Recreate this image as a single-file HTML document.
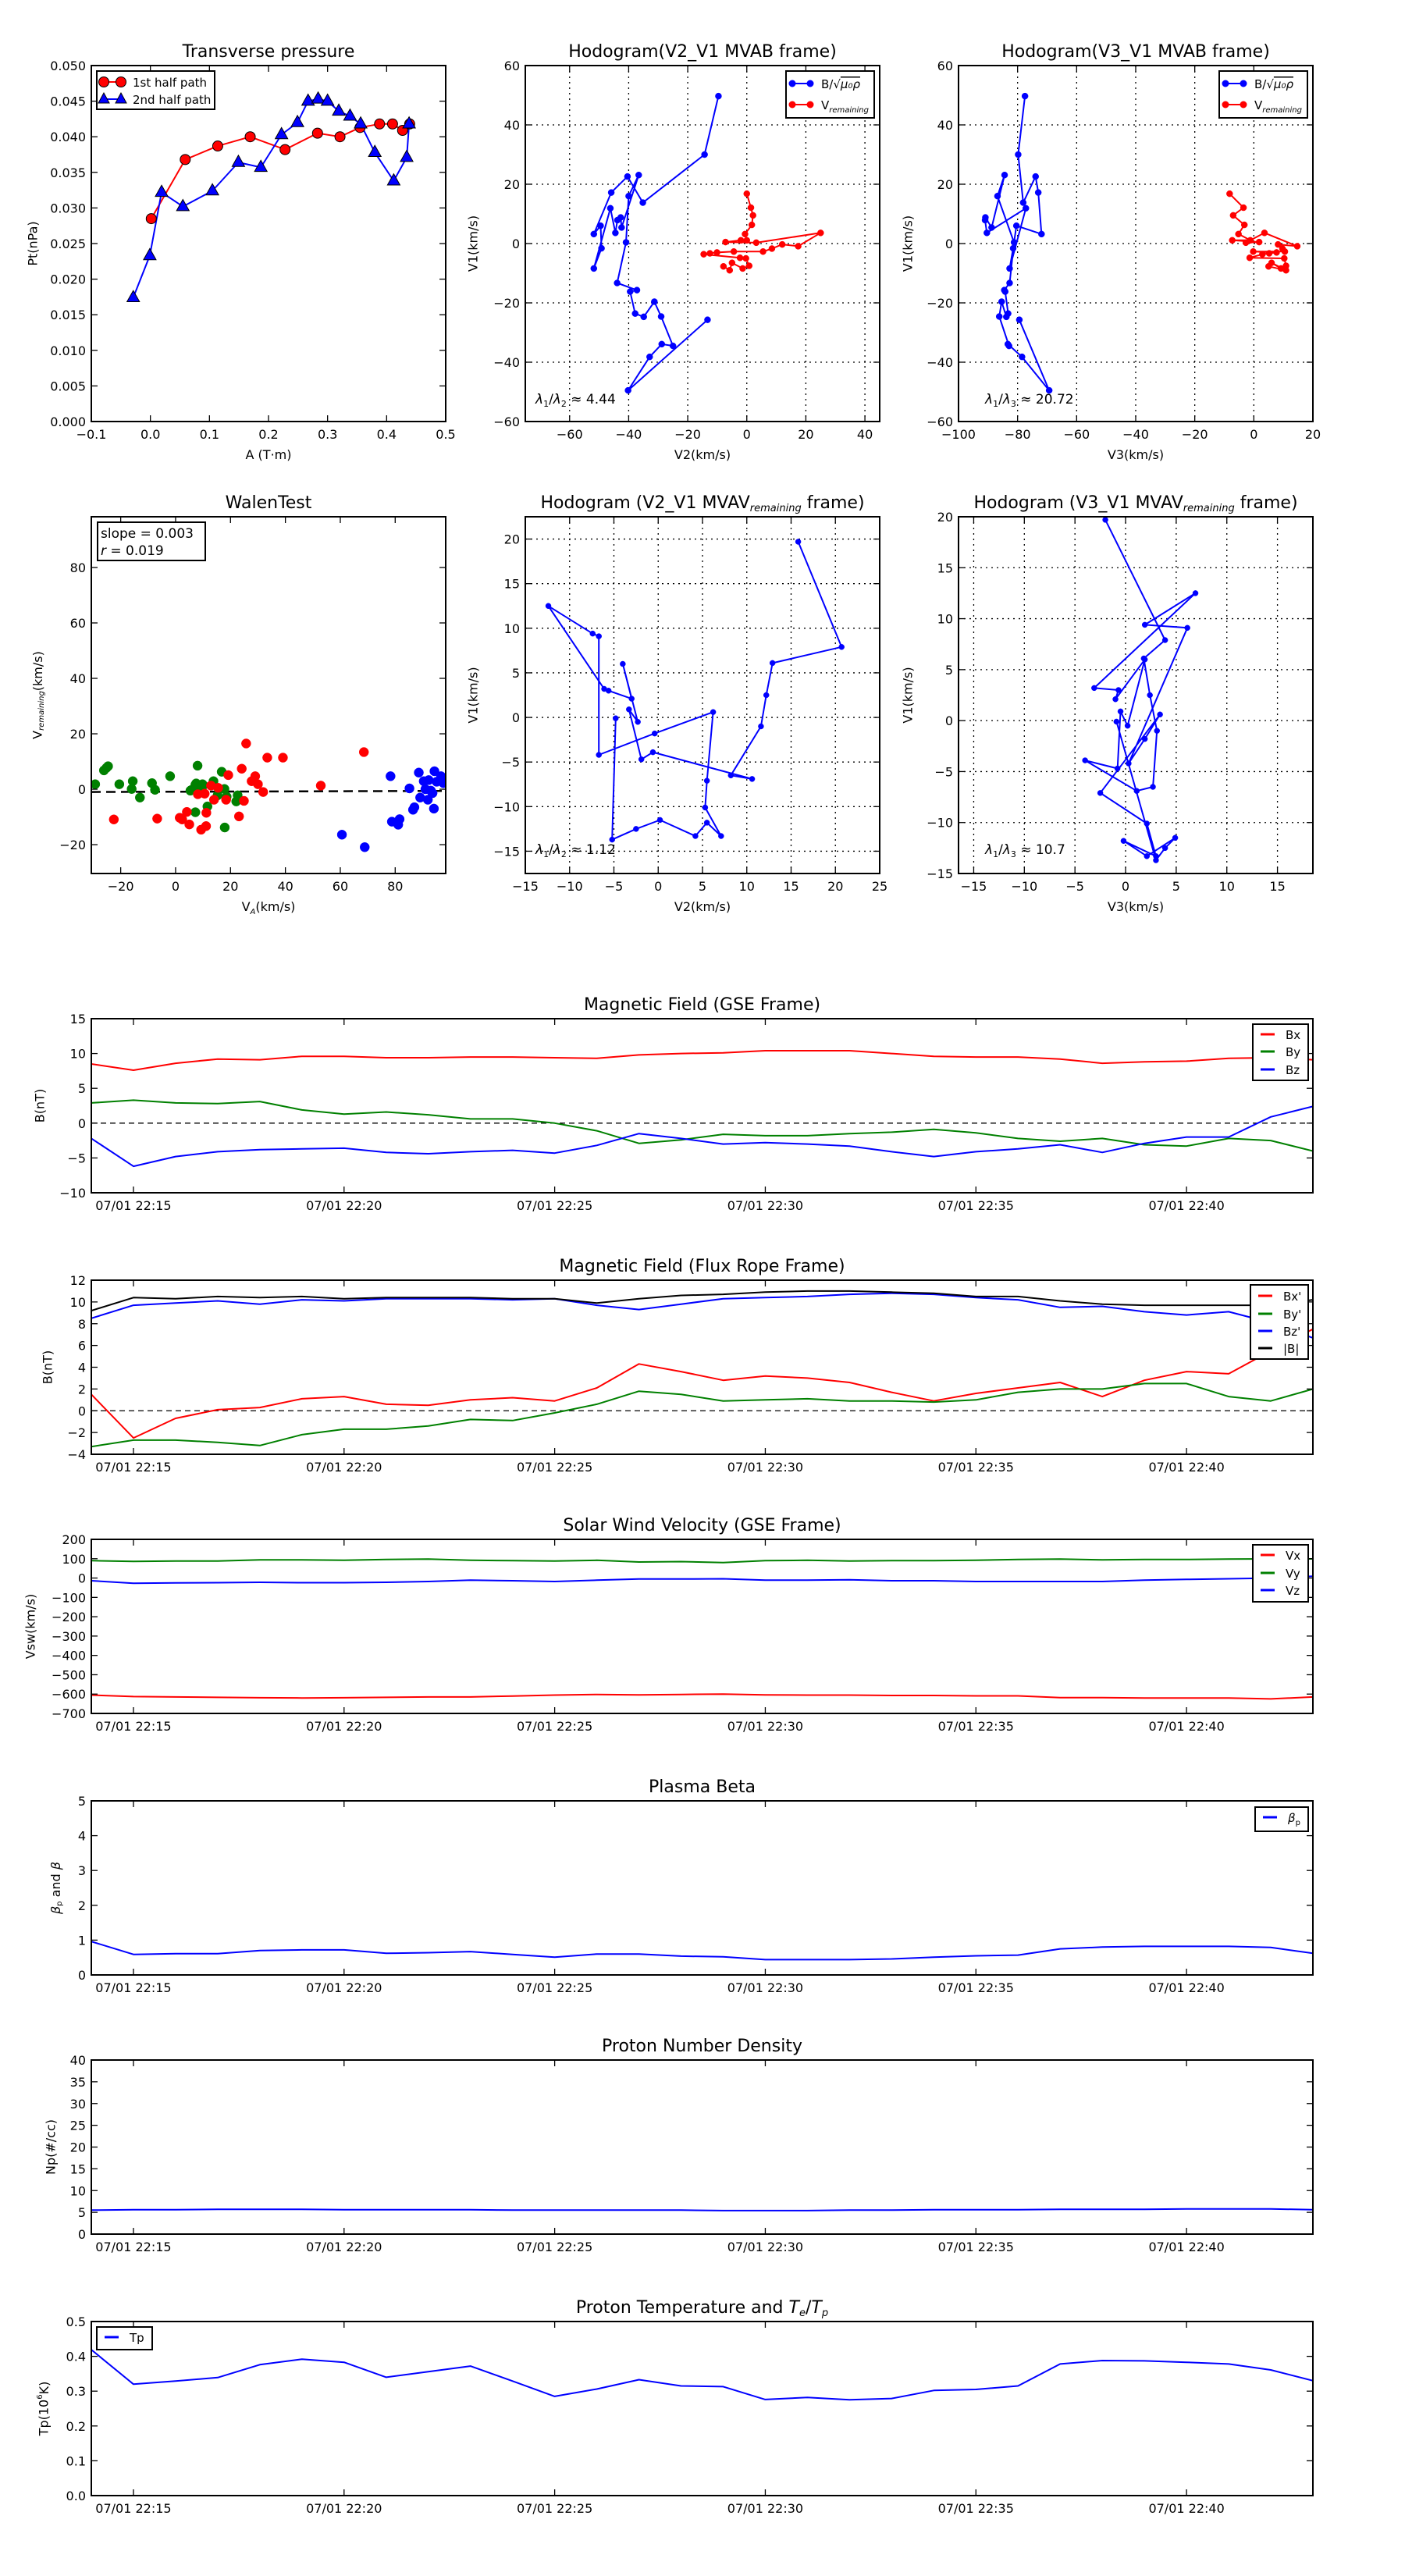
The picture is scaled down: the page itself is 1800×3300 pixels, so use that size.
<!DOCTYPE html>
<html><head><meta charset="utf-8">
<style>
body{margin:0;background:#fff}
svg{display:block}
text{font-family:"DejaVu Sans","Liberation Sans",sans-serif;fill:#000}
</style></head>
<body>
<svg id="fig" xmlns="http://www.w3.org/2000/svg" width="1800" height="3300" viewBox="0 0 1800 3300">
<rect width="1800" height="3300" fill="#fff"/>
</svg>
<script>
// ---------------- DATA ----------------
// Transverse pressure
const ptRedA=[0.0015,0.059,0.114,0.169,0.228,0.283,0.321,0.355,0.388,0.410,0.427,0.439];
const ptRedP=[0.0285,0.0368,0.0387,0.0400,0.0382,0.0405,0.0400,0.0413,0.0418,0.0418,0.0409,0.0418];
const ptBlueA=[-0.029,-0.001,0.019,0.055,0.105,0.149,0.187,0.222,0.249,0.267,0.284,0.300,0.319,0.338,0.356,0.380,0.412,0.434,0.438];
const ptBlueP=[0.0174,0.0233,0.0322,0.0302,0.0324,0.0364,0.0357,0.0403,0.0420,0.0450,0.0453,0.0450,0.0436,0.0429,0.0418,0.0378,0.0338,0.0371,0.0418];
const ptXTicks=[-0.1,0,0.1,0.2,0.3,0.4,0.5];
const ptYTicks=[0,0.005,0.01,0.015,0.02,0.025,0.03,0.035,0.04,0.045,0.05];
// MVAB hodograms
const hbV2=[-9.6,-14.3,-35.2,-40.4,-45.9,-51.8,-49.5,-49.2,-51.8,-46.2,-44.5,-43.8,-42.7,-42.4,-36.6,-40,-40.9,-43.9,-37.2,-39.5,-37.8,-34.9,-31.3,-29,-25,-28.8,-32.9,-40.2,-13.3];
const hbV1=[49.7,30,13.8,22.6,17.2,3.2,6,-1.6,-8.4,11.9,3.6,7.9,8.8,5.4,23.1,16,0.4,-13.3,-15.7,-16.2,-23.6,-24.7,-19.6,-24.6,-34.5,-33.9,-38.2,-49.5,-25.7];
const hbV3=[-77.5,-79.8,-78.1,-73.9,-73,-71.9,-80.4,-81.5,-82.7,-77.2,-90.4,-91,-90.9,-88.8,-84.4,-86.8,-81.2,-82.7,-84.5,-84.2,-83.2,-83.8,-85.4,-86.2,-82.9,-83.3,-78.5,-69.3,-79.4];
const hrV2=[0,1.4,2.1,1.7,-0.6,0,-2,-7.2,3.2,25,17.4,12,8.5,5.5,-4.4,-10.1,-12.5,-14.6,-2.3,-0.3,0.8,-1.4,-5,-5.8,-7.9];
const hrV1=[16.8,12.1,9.5,6.3,3.2,1.1,1.1,0.5,0.3,3.6,-0.9,-0.3,-1.7,-2.7,-2.7,-3,-3.3,-3.6,-4.8,-5,-7.5,-8.4,-6.5,-9,-7.7];
const hrV3=[-8.2,-3.5,-7,-3.2,-5.2,-1.2,-7.3,1.8,-2.7,3.6,14.7,8.2,9.7,10.5,-0.2,7.7,5.2,2.9,-1.4,10.3,10.9,9.2,6,10.9,5];
// MVAV hodograms
const hvV2=[15.8,20.7,12.9,12.2,11.6,8.2,10.6,-0.6,-1.9,-3.3,-2.3,-4.0,-3.0,-5.6,-6.1,-12.4,-7.4,-6.7,-6.7,-0.4,6.2,5.5,5.3,7.1,5.5,4.2,0.2,-2.5,-5.2,-4.8];
const hvV1=[19.7,7.9,6.1,2.5,-1.0,-6.5,-6.9,-3.9,-4.7,0.9,-0.5,6.0,2.1,3.0,3.2,12.5,9.4,9.1,-4.2,-1.8,0.6,-7.1,-10.1,-13.3,-11.8,-13.3,-11.5,-12.5,-13.7,-0.1];
const hvV3=[-2.0,3.9,1.8,2.4,3.1,2.7,1.1,-4.0,-0.8,-0.5,0.2,1.9,-1.0,-0.7,-3.1,6.9,1.9,6.1,0.3,1.9,3.4,-2.5,2.1,3.0,-0.2,2.1,4.9,3.9,3.0,-0.9];
// Walen test
const wgX=[-29.3,-26.1,-25.2,-24.6,-20.5,-15.6,-16.0,-13.0,-8.6,-7.5,-2.0,5.4,7.2,7.5,8.0,9.0,9.8,10.1,11.6,13.8,15.3,16.8,17.8,17.9,18.6,22.1,22.6,7.2,5.7];
const wgY=[1.8,6.8,7.7,8.3,1.8,2.9,0.1,-3.0,2.2,-0.2,4.7,-0.5,1.6,2.1,8.5,0.1,1.8,1.4,-6.2,2.9,-2.2,6.3,0.1,-13.8,-2.7,-4.4,-2.2,-8.3,-0.3];
const wrX=[-22.5,-6.7,1.5,2.4,4.1,5.0,8.1,9.3,10.6,11.1,11.2,12.9,14.0,15.5,18.4,19.2,23.1,24.1,24.9,25.7,27.7,29.0,30.0,31.9,33.4,39.1,52.9,68.6];
const wrY=[-10.9,-10.6,-10.3,-10.9,-8.2,-12.7,-1.8,-14.6,-1.6,-13.3,-8.5,1.3,-3.8,0.5,-3.8,5.1,-9.8,7.4,-4.2,16.5,2.9,4.7,1.8,-1.0,11.4,11.4,1.3,13.4];
const wbX=[60.6,68.9,78.3,78.8,81.1,81.6,85.2,86.5,87.0,88.6,89.1,90.4,91.0,91.9,92.2,93.0,93.6,94.1,94.3,95.1,96.7,97.6];
const wbY=[-16.4,-20.9,4.7,-11.7,-12.8,-10.8,0.3,-7.4,-6.5,6.0,-3.0,2.9,0,-3.8,3.3,-0.5,-1.4,-7.0,6.5,2.7,4.7,2.2];
const walenSlope=[0.003];
const walenIntercept=[-0.9];
// Time series
const times=['22:14','22:15','22:16','22:17','22:18','22:19','22:20','22:21','22:22','22:23','22:24','22:25','22:26','22:27','22:28','22:29','22:30','22:31','22:32','22:33','22:34','22:35','22:36','22:37','22:38','22:39','22:40','22:41','22:42','22:43'];
const tsTickTimes=['22:15','22:20','22:25','22:30','22:35','22:40'];
const tsTickLabels=['07/01 22:15','07/01 22:20','07/01 22:25','07/01 22:30','07/01 22:35','07/01 22:40'];
const bx=[8.5,7.6,8.6,9.2,9.1,9.6,9.6,9.4,9.4,9.5,9.5,9.4,9.3,9.8,10.0,10.1,10.4,10.4,10.4,10.0,9.6,9.5,9.5,9.2,8.6,8.8,8.9,9.3,9.4,9.1];
const by=[2.9,3.3,2.9,2.8,3.1,1.9,1.3,1.6,1.2,0.6,0.6,0.0,-1.1,-2.9,-2.4,-1.6,-1.8,-1.8,-1.5,-1.3,-0.9,-1.4,-2.2,-2.6,-2.2,-3.1,-3.3,-2.2,-2.5,-4.0];
const bz=[-2.2,-6.2,-4.8,-4.1,-3.8,-3.7,-3.6,-4.2,-4.4,-4.1,-3.9,-4.3,-3.2,-1.5,-2.2,-3.0,-2.8,-3.0,-3.3,-4.1,-4.8,-4.1,-3.7,-3.1,-4.2,-2.9,-2.0,-2.0,0.9,2.4];
const bxp=[1.5,-2.5,-0.7,0.1,0.3,1.1,1.3,0.6,0.5,1.0,1.2,0.9,2.1,4.3,3.6,2.8,3.2,3.0,2.6,1.7,0.9,1.6,2.1,2.6,1.3,2.8,3.6,3.4,5.5,7.5];
const byp=[-3.3,-2.7,-2.7,-2.9,-3.2,-2.2,-1.7,-1.7,-1.4,-0.8,-0.9,-0.2,0.6,1.8,1.5,0.9,1.0,1.1,0.9,0.9,0.8,1.0,1.7,2.0,2.0,2.5,2.5,1.3,0.9,2.0];
const bzp=[8.5,9.7,9.9,10.1,9.8,10.2,10.1,10.3,10.3,10.3,10.2,10.3,9.7,9.3,9.8,10.3,10.4,10.5,10.7,10.8,10.7,10.4,10.2,9.5,9.6,9.1,8.8,9.1,8.1,6.7];
const btot=[9.2,10.4,10.3,10.5,10.4,10.5,10.3,10.4,10.4,10.4,10.3,10.3,9.9,10.3,10.6,10.7,10.9,11.0,11.0,10.9,10.8,10.5,10.5,10.1,9.8,9.7,9.7,9.7,9.7,10.2];
const vx=[-605,-613,-615,-617,-619,-620,-619,-617,-615,-615,-610,-605,-602,-604,-602,-600,-604,-605,-605,-607,-607,-609,-609,-618,-618,-620,-620,-620,-625,-615];
const vy=[90,86,88,88,94,94,92,96,98,92,90,88,92,83,85,80,90,92,88,90,90,92,96,98,94,96,96,98,99,99];
const vz=[-14,-27,-25,-24,-22,-24,-24,-22,-18,-11,-14,-18,-11,-5,-5,-4,-11,-11,-9,-14,-14,-18,-18,-18,-18,-11,-7,-4,0,9];
const betaP=[0.96,0.59,0.61,0.61,0.70,0.72,0.72,0.62,0.64,0.67,0.59,0.51,0.60,0.60,0.54,0.52,0.44,0.44,0.44,0.46,0.51,0.55,0.57,0.75,0.80,0.82,0.82,0.82,0.79,0.62];
const np=[5.5,5.6,5.6,5.7,5.7,5.7,5.6,5.6,5.6,5.6,5.5,5.5,5.5,5.5,5.5,5.4,5.4,5.4,5.5,5.5,5.6,5.6,5.6,5.7,5.7,5.7,5.8,5.8,5.8,5.6];
const tp=[0.419,0.320,0.329,0.339,0.376,0.392,0.383,0.340,0.356,0.372,0.329,0.285,0.306,0.333,0.315,0.313,0.276,0.282,0.275,0.279,0.302,0.305,0.315,0.378,0.388,0.387,0.383,0.378,0.361,0.330];

// ---------------- HELPERS ----------------
const NS='http://www.w3.org/2000/svg';
const svg=document.getElementById('fig');
function mk(tag,parent,attrs){const e=document.createElementNS(NS,tag);if(attrs){for(const k in attrs)e.setAttribute(k,attrs[k]);}parent.appendChild(e);return e;}
const minus=s=>String(s).replace('-','\u2212');
const tmin=s=>{const p=s.split(':');return (+p[0])*60+(+p[1]);};
let clipN=0;
function makeAxes(name,L,T,W,H,x0,x1,y0,y1){
  const g=mk('g',svg);
  
  
  const id='clip'+(clipN++);
  const cp=mk('clipPath',g,{id:id});mk('rect',cp,{x:L,y:T,width:W,height:H});
  const gridG=mk('g',g);
  
  
  const dataG=mk('g',g,{'clip-path':'url(#'+id+')'});
  
  
  return {name,g,gridG,dataG,L,T,W,H,sx:v=>L+(v-x0)/(x1-x0)*W,sy:v=>T+H-(v-y0)/(y1-y0)*H};
}
function txt(parent,x,y,str,size,anchor,html){
  const t=mk('text',parent,{x:x,y:y,'font-size':size,'text-anchor':anchor||'middle'});
  if(html)t.innerHTML=str;else t.textContent=str;
  return t;
}
function decorate(ax,xt,xl,yt,yl,grid){
  const g=ax.g,B=ax.T+ax.H,R=ax.L+ax.W;
  xt.forEach((v,i)=>{
    const x=ax.sx(v);
    if(grid){const gl=mk('line',ax.gridG,{x1:x,y1:ax.T,x2:x,y2:B,stroke:'#000','stroke-width':1.3,'stroke-dasharray':'2,5'});
      
      }
    const t1=mk('line',g,{x1:x,y1:B,x2:x,y2:B-8,stroke:'#000','stroke-width':1.3});
    
    
    mk('line',g,{x1:x,y1:ax.T,x2:x,y2:ax.T+8,stroke:'#000','stroke-width':1.3});
    const lb=txt(g,x,B+22,xl[i],16,'middle');
    
    
  });
  yt.forEach((v,i)=>{
    const y=ax.sy(v);
    if(grid){const gl=mk('line',ax.gridG,{x1:ax.L,y1:y,x2:R,y2:y,stroke:'#000','stroke-width':1.3,'stroke-dasharray':'2,5'});
      
      }
    const t1=mk('line',g,{x1:ax.L,y1:y,x2:ax.L+8,y2:y,stroke:'#000','stroke-width':1.3});
    
    
    mk('line',g,{x1:R,y1:y,x2:R-8,y2:y,stroke:'#000','stroke-width':1.3});
    const lb=txt(g,ax.L-7,y+6,yl[i],16,'end');
    
    
  });
  const fr=mk('rect',g,{x:ax.L,y:ax.T,width:ax.W,height:ax.H,fill:'none',stroke:'#000','stroke-width':2});
  
  
}
function title(ax,str,html){const t=txt(ax.g,ax.L+ax.W/2,ax.T-11,str,22,'middle',html);
  
  }
function xlabel(ax,str,y,html){const t=txt(ax.g,ax.L+ax.W/2,y,str,16,'middle',html);
  
  }
function ylabel(ax,str,x,html){const cy=ax.T+ax.H/2;const t=txt(ax.g,x,cy,str,16,'middle',html);t.setAttribute('transform','rotate(-90 '+x+' '+cy+')');t.setAttribute('dominant-baseline','middle');
  
  }
function pathOf(ax,xs,ys){return xs.map((v,i)=>ax.sx(v).toFixed(1)+','+ax.sy(ys[i]).toFixed(1)).join(' ');}
function line(ax,xs,ys,color,name,w){const p=mk('polyline',ax.dataG,{points:pathOf(ax,xs,ys),fill:'none',stroke:color,'stroke-width':w||2,'stroke-linejoin':'round'});
  
  return p;}
function dots(ax,xs,ys,color,r,name,shape){
  xs.forEach((v,i)=>{
    const x=ax.sx(v),y=ax.sy(ys[i]);let m;
    if(shape==='tri'){m=mk('polygon',ax.dataG,{points:`${x},${y-r*1.3} ${x-r*1.15},${y+r*0.75} ${x+r*1.15},${y+r*0.75}`,fill:color,stroke:'#000','stroke-width':1});}
    else{m=mk('circle',ax.dataG,{cx:x,cy:y,r:r,fill:color,stroke:shape==='edge'?'#000':color,'stroke-width':shape==='edge'?1:0.5});}
    
    
  });
}
function legend(ax,x,y,w,h,entries,name,size){
  const g=mk('g',ax.g);
  
  
  mk('rect',g,{x:x,y:y,width:w,height:h,fill:'#fff',stroke:'#000','stroke-width':2});
  entries.forEach(e=>{
    const eg=mk('g',g);
    
    
    mk('line',eg,{x1:e.x1,y1:e.y,x2:e.x2,y2:e.y,stroke:e.c,'stroke-width':e.mk?2:3});
    if(e.mk==='circ'){[e.x1,e.x2].forEach(px=>mk('circle',eg,{cx:px,cy:e.y,r:e.r,fill:e.c,stroke:e.edge?'#000':e.c,'stroke-width':1}));}
    if(e.mk==='tri'){[e.x1,e.x2].forEach(px=>mk('polygon',eg,{points:`${px},${e.y-8} ${px-7},${e.y+5} ${px+7},${e.y+5}`,fill:e.c,stroke:'#000','stroke-width':1}));}
    txt(eg,e.tx,e.y+6,e.label,size||16,'start',true);
  });
}
const range=(a,b,s)=>{const r=[];for(let v=a;v<=b+1e-9;v+=s)r.push(+v.toFixed(6));return r;};

// ---------------- ROW 1 ----------------
const R1T=84,R1H=456,R2T=662,R2H=457;
const PX=[117,673,1228],PW=454;
{ // Transverse pressure
  const ax=makeAxes('transverse-pressure-chart',PX[0],R1T,PW,R1H,-0.1,0.5,0,0.05);
  line(ax,ptRedA,ptRedP,'#f00','first-half-path-line');
  line(ax,ptBlueA,ptBlueP,'#00f','second-half-path-line');
  dots(ax,ptRedA,ptRedP,'#f00',6.5,'first-half-point','edge');
  dots(ax,ptBlueA,ptBlueP,'#00f',7,'second-half-point','tri');
  decorate(ax,ptXTicks,ptXTicks.map(v=>minus(v.toFixed(1))),ptYTicks,ptYTicks.map(v=>v.toFixed(3)),false);
  title(ax,'Transverse pressure');
  xlabel(ax,'A (T·m)',588);
  ylabel(ax,'Pt(nPa)',43);
  legend(ax,124,91,151,49,[
    {x1:133,x2:155,y:105,c:'#f00',mk:'circ',r:6.5,edge:true,tx:170,label:'1st half path'},
    {x1:133,x2:155,y:127,c:'#00f',mk:'tri',tx:170,label:'2nd half path'}],'pressure-legend',15);
}
function hodo(name,L,T,H,xr,yr,xt,yt,bx_,by_,rx,ry,ttl,xl,yx,lam,lamX,lamY,leg,dotR){
  const ax=makeAxes(name,L,T,PW,H,xr[0],xr[1],yr[0],yr[1]);
  decorate(ax,xt,xt.map(v=>minus(v)),yt,yt.map(v=>minus(v)),true);
  line(ax,bx_,by_,'#00f','b-field-hodogram-line');
  dots(ax,bx_,by_,'#00f',dotR||4,'b-field-point');
  if(rx){line(ax,rx,ry,'#f00','v-remaining-hodogram-line');dots(ax,rx,ry,'#f00',dotR||4,'v-remaining-point');}
  title(ax,ttl,true);
  xlabel(ax,xl,T+H+48);
  ylabel(ax,'V1(km/s)',yx);
  const lt=txt(ax.g,lamX,lamY,lam,17,'start',true);
  
  
  if(leg){
    legend(ax,L+PW-120,T+7,113,60,[
      {x1:L+PW-112,x2:L+PW-89,y:T+23,c:'#00f',mk:'circ',r:4,tx:L+PW-75,label:'B/√<tspan text-decoration="overline" font-style="italic">μ₀ρ</tspan>'},
      {x1:L+PW-112,x2:L+PW-89,y:T+50,c:'#f00',mk:'circ',r:4,tx:L+PW-75,label:'V<tspan font-size="10" dy="4" font-style="italic">remaining</tspan>'}],'hodogram-legend',15);
  }
  return ax;
}
hodo('hodogram-v2-v1-mvab',PX[1],R1T,R1H,[-75,45],[-60,60],[-60,-40,-20,0,20,40],[-60,-40,-20,0,20,40,60],hbV2,hbV1,hrV2,hrV1,
  'Hodogram(V2_V1 MVAB frame)','V2(km/s)',607,'<tspan font-style="italic">λ</tspan><tspan font-size="11" dy="4">1</tspan><tspan dy="-4">/</tspan><tspan font-style="italic">λ</tspan><tspan font-size="11" dy="4">2</tspan><tspan dy="-4"> ≈ 4.44</tspan>',686,517,true);
hodo('hodogram-v3-v1-mvab',PX[2],R1T,R1H,[-100,20],[-60,60],[-100,-80,-60,-40,-20,0,20],[-60,-40,-20,0,20,40,60],hbV3,hbV1,hrV3,hrV1,
  'Hodogram(V3_V1 MVAB frame)','V3(km/s)',1164,'<tspan font-style="italic">λ</tspan><tspan font-size="11" dy="4">1</tspan><tspan dy="-4">/</tspan><tspan font-style="italic">λ</tspan><tspan font-size="11" dy="4">3</tspan><tspan dy="-4"> ≈ 20.72</tspan>',1262,517,true);

// ---------------- ROW 2 ----------------
{ // Walen test
  const ax=makeAxes('walen-test-chart',PX[0],R2T,PW,R2H,-30.7,98.4,-30.4,98.3);
  const wx=[-30.7,98.4];
  const fl=mk('line',ax.dataG,{x1:ax.sx(wx[0]),y1:ax.sy(walenSlope[0]*wx[0]+walenIntercept[0]),x2:ax.sx(wx[1]),y2:ax.sy(walenSlope[0]*wx[1]+walenIntercept[0]),stroke:'#000','stroke-width':2.5,'stroke-dasharray':'12,7'});
  
  
  dots(ax,wgX,wgY,'#008000',6,'walen-point-green');
  dots(ax,wrX,wrY,'#f00',6,'walen-point-red');
  dots(ax,wbX,wbY,'#00f',6,'walen-point-blue');
  const t=[-20,0,20,40,60,80];
  decorate(ax,t,t.map(v=>minus(v)),t,t.map(v=>minus(v)),false);
  title(ax,'WalenTest');
  xlabel(ax,'V<tspan font-size="10" dy="4" font-style="italic">A</tspan><tspan dy="-4">(km/s)</tspan>',R2T+R2H+48,true);
  ylabel(ax,'V<tspan font-size="10" dy="4" font-style="italic">remaining</tspan><tspan dy="-4">(km/s)</tspan>',49,true);
  const bg=mk('g',ax.g);
  
  
  mk('rect',bg,{x:125,y:669,width:138,height:49,fill:'#fff',stroke:'#000','stroke-width':2});
  txt(bg,129,689,'slope = 0.003',17,'start');
  txt(bg,129,711,'<tspan font-style="italic">r</tspan> = 0.019',17,'start',true);
}
hodo('hodogram-v2-v1-mvav',PX[1],R2T,R2H,[-15,25],[-17.5,22.5],[-15,-10,-5,0,5,10,15,20,25],[-15,-10,-5,0,5,10,15,20],hvV2,hvV1,null,null,
  'Hodogram (V2_V1 MVAV<tspan font-size="13" dy="4" font-style="italic">remaining</tspan><tspan dy="-4"> frame)</tspan>','V2(km/s)',607,'<tspan font-style="italic">λ</tspan><tspan font-size="11" dy="4">1</tspan><tspan dy="-4">/</tspan><tspan font-style="italic">λ</tspan><tspan font-size="11" dy="4">2</tspan><tspan dy="-4"> ≈ 1.12</tspan>',686,1094,false,3.5);
hodo('hodogram-v3-v1-mvav',PX[2],R2T,R2H,[-16.5,18.5],[-15,20],[-15,-10,-5,0,5,10,15],[-15,-10,-5,0,5,10,15,20],hvV3,hvV1,null,null,
  'Hodogram (V3_V1 MVAV<tspan font-size="13" dy="4" font-style="italic">remaining</tspan><tspan dy="-4"> frame)</tspan>','V3(km/s)',1164,'<tspan font-style="italic">λ</tspan><tspan font-size="11" dy="4">1</tspan><tspan dy="-4">/</tspan><tspan font-style="italic">λ</tspan><tspan font-size="11" dy="4">3</tspan><tspan dy="-4"> ≈ 10.7</tspan>',1262,1094,false,3.5);

// ---------------- TIME SERIES ----------------
const TL=117,TW=1565,TH=223;
const tx=times.map(tmin);
const tT=tsTickTimes.map(tmin);
function ts(name,T,y0,y1,yt,yfmt,series,ttl,yl,ylx,zero,leg){
  const ax=makeAxes(name,TL,T,TW,TH,tx[0],tx[tx.length-1],y0,y1);
  if(zero){const z=mk('line',ax.dataG,{x1:TL,y1:ax.sy(0),x2:TL+TW,y2:ax.sy(0),stroke:'#000','stroke-width':1.3,'stroke-dasharray':'7,5'});
    
    }
  series.forEach(s=>line(ax,tx,s.d,s.c,s.n,2));
  decorate(ax,tT,tsTickLabels,yt,yt.map(yfmt),false);
  title(ax,ttl,true);
  ylabel(ax,yl,ylx,true);
  if(leg)legend(ax,leg.x,leg.y,leg.w,leg.h,leg.e,name+'-legend',15);
  return ax;
}
const I=v=>minus(v);
const E=(y,c,l,x1)=>({x1:x1,x2:x1+18,y:y,c:c,tx:x1+32,label:l});
ts('magnetic-field-gse-chart',1305,-10,15,range(-10,15,5),I,[{d:bx,c:'#f00',n:'bx-line'},{d:by,c:'#008000',n:'by-line'},{d:bz,c:'#00f',n:'bz-line'}],
  'Magnetic Field (GSE Frame)','B(nT)',52,true,{x:1605,y:1312,w:71,h:72,e:[E(1325,'#f00','Bx',1615),E(1347,'#008000','By',1615),E(1370,'#00f','Bz',1615)]});
ts('magnetic-field-flux-rope-chart',1640,-4,12,range(-4,12,2),I,[{d:bxp,c:'#f00',n:'bx-prime-line'},{d:byp,c:'#008000',n:'by-prime-line'},{d:bzp,c:'#00f',n:'bz-prime-line'},{d:btot,c:'#000',n:'b-total-line'}],
  'Magnetic Field (Flux Rope Frame)','B(nT)',62,true,{x:1602,y:1646,w:74,h:95,e:[E(1660,'#f00',"Bx'",1612),E(1683,'#008000',"By'",1612),E(1705,'#00f',"Bz'",1612),E(1727,'#000','|B|',1612)]});
ts('solar-wind-velocity-chart',1972,-700,200,range(-700,200,100),I,[{d:vx,c:'#f00',n:'vx-line'},{d:vy,c:'#008000',n:'vy-line'},{d:vz,c:'#00f',n:'vz-line'}],
  'Solar Wind Velocity (GSE Frame)','Vsw(km/s)',40,false,{x:1605,y:1979,w:71,h:73,e:[E(1992,'#f00','Vx',1615),E(2015,'#008000','Vy',1615),E(2037,'#00f','Vz',1615)]});
ts('plasma-beta-chart',2307,0,5,range(0,5,1),I,[{d:betaP,c:'#00f',n:'beta-p-line'}],
  'Plasma Beta','<tspan font-style="italic">β</tspan><tspan font-size="10" dy="4">p</tspan><tspan dy="-4"> and </tspan><tspan font-style="italic">β</tspan>',72,false,{x:1608,y:2315,w:68,h:31,e:[E(2328,'#00f','<tspan font-style="italic">β</tspan><tspan font-size="10" dy="4">p</tspan>',1618)]});
ts('proton-density-chart',2639,0,40,range(0,40,5),I,[{d:np,c:'#00f',n:'np-line'}],
  'Proton Number Density','Np(#/cc)',66,false,null);
ts('proton-temperature-chart',2974,0,0.5,range(0,0.5,0.1),v=>v.toFixed(1),[{d:tp,c:'#00f',n:'tp-line'}],
  'Proton Temperature and <tspan font-style="italic">T</tspan><tspan font-size="13" dy="4" font-style="italic">e</tspan><tspan dy="-4">/</tspan><tspan font-style="italic">T</tspan><tspan font-size="13" dy="4" font-style="italic">p</tspan>','Tp(10<tspan font-size="10" dy="-6">6</tspan><tspan dy="6">K)</tspan>',57,false,{x:124,y:2981,w:71,h:29,e:[E(2994,'#00f','Tp',134)]});
</script>
</body></html>
